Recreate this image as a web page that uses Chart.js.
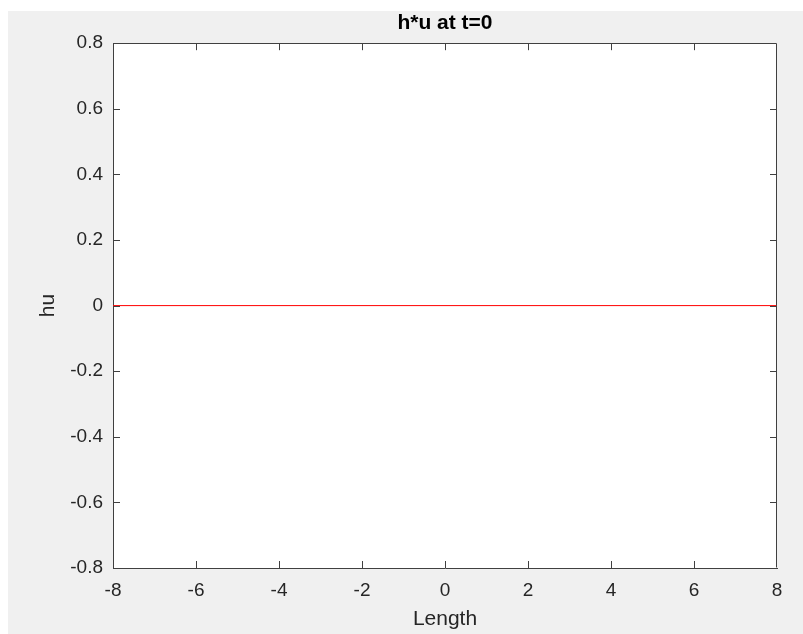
<!DOCTYPE html>
<html>
<head>
<meta charset="utf-8">
<title>h*u at t=0</title>
<script src="https://cdn.jsdelivr.net/npm/chart.js@4/dist/chart.umd.min.js"></script>
<style>
  html, body { margin: 0; padding: 0; background: #ffffff; }
  canvas { display: block; }
</style>
</head>
<body>
<canvas id="huChart" width="803" height="634"></canvas>
<script>
// data: hu is flat zero along the whole length
const lengthValues = [-8, -6, -4, -2, 0, 2, 4, 6, 8];
const huValues = [0, 0, 0, 0, 0, 0, 0, 0, 0];
const xTicks = [-8, -6, -4, -2, 0, 2, 4, 6, 8];
const yTicks = [-0.8, -0.6, -0.4, -0.2, 0, 0.2, 0.4, 0.6, 0.8];

const fontFamily = 'Arial, "Liberation Sans", Helvetica, sans-serif';
const axisColor = '#404040';
const textColor = '#262626';
const tickLen = 7;

// gray figure background + white axes box, MATLAB style
const figureBackground = {
    id: 'figureBackground',
    beforeDraw(chart) {
        const ctx = chart.ctx;
        const a = chart.chartArea;
        ctx.save();
        ctx.fillStyle = '#f0f0f0';
        ctx.fillRect(8, 11, chart.width - 8, chart.height - 11);
        ctx.fillStyle = '#ffffff';
        ctx.fillRect(a.left, a.top, a.right - a.left, a.bottom - a.top);
        ctx.restore();
    }
};

// inward tick marks on all four sides, plus top/right box lines
const matlabBox = {
    id: 'matlabBox',
    afterDraw(chart) {
        const ctx = chart.ctx;
        const a = chart.chartArea;
        const xs = chart.scales.x;
        const ys = chart.scales.y;
        ctx.save();
        ctx.strokeStyle = axisColor;
        ctx.lineWidth = 1;
        ctx.beginPath();
        ctx.moveTo(Math.round(a.left) + 0.5, Math.round(a.top) + 0.5);
        ctx.lineTo(Math.round(a.right) - 0.5, Math.round(a.top) + 0.5);
        ctx.lineTo(Math.round(a.right) - 0.5, Math.round(a.bottom) - 0.5);
        xs.ticks.forEach(t => {
            if (t.value === xs.min || t.value === xs.max) return;
            const px = Math.round(xs.getPixelForValue(t.value)) + 0.5;
            ctx.moveTo(px, a.bottom);
            ctx.lineTo(px, a.bottom - tickLen);
            ctx.moveTo(px, a.top);
            ctx.lineTo(px, a.top + tickLen);
        });
        ys.ticks.forEach(t => {
            if (t.value === ys.min || t.value === ys.max) return;
            const py = Math.round(ys.getPixelForValue(t.value)) + 0.5;
            ctx.moveTo(a.left, py);
            ctx.lineTo(a.left + tickLen, py);
            ctx.moveTo(a.right, py);
            ctx.lineTo(a.right - tickLen, py);
        });
        ctx.stroke();
        ctx.restore();
    }
};

new Chart(document.getElementById('huChart'), {
    type: 'line',
    data: {
        labels: lengthValues,
        datasets: [{
            label: 'hu',
            data: lengthValues.map((x, i) => ({ x: x, y: huValues[i] })),
            borderColor: '#ff0000',
            borderWidth: 1,
            pointRadius: 0,
            fill: false,
            tension: 0
        }]
    },
    options: {
        responsive: false,
        animation: false,
        devicePixelRatio: 1,
        layout: { padding: { left: 0, right: 26, top: 0, bottom: 0 } },
        scales: {
            x: {
                type: 'linear',
                min: -8,
                max: 8,
                afterBuildTicks: scale => { scale.ticks = xTicks.map(v => ({ value: v })); },
                afterFit: scale => { scale.height = 66; },
                grid: { display: false, drawTicks: false },
                border: { display: true, color: axisColor, width: 1 },
                ticks: {
                    padding: 11,
                    color: textColor,
                    font: { family: fontFamily, size: 19 },
                    maxRotation: 0
                },
                title: {
                    display: true,
                    text: 'Length',
                    color: textColor,
                    font: { family: fontFamily, size: 21 },
                    padding: { top: 0, bottom: 2 }
                }
            },
            y: {
                type: 'linear',
                min: -0.8,
                max: 0.8,
                afterBuildTicks: scale => { scale.ticks = yTicks.map(v => ({ value: v })); },
                afterFit: scale => { scale.width = 113; },
                grid: { display: false, drawTicks: false },
                border: { display: true, color: axisColor, width: 1 },
                ticks: {
                    padding: 10,
                    color: textColor,
                    font: { family: fontFamily, size: 19 },
                    callback: v => String(Math.round(v * 10) / 10)
                },
                title: {
                    display: true,
                    text: 'hu',
                    color: textColor,
                    font: { family: fontFamily, size: 21 },
                    padding: { top: 36, bottom: 0 }
                }
            }
        },
        plugins: {
            legend: { display: false },
            tooltip: { enabled: false },
            title: {
                display: true,
                fullSize: false,
                text: 'h*u at t=0',
                color: '#000000',
                font: { family: fontFamily, size: 21, weight: 'bold' },
                padding: { top: 11, bottom: 7 }
            }
        }
    },
    plugins: [figureBackground, matlabBox]
});
</script>
</body>
</html>
